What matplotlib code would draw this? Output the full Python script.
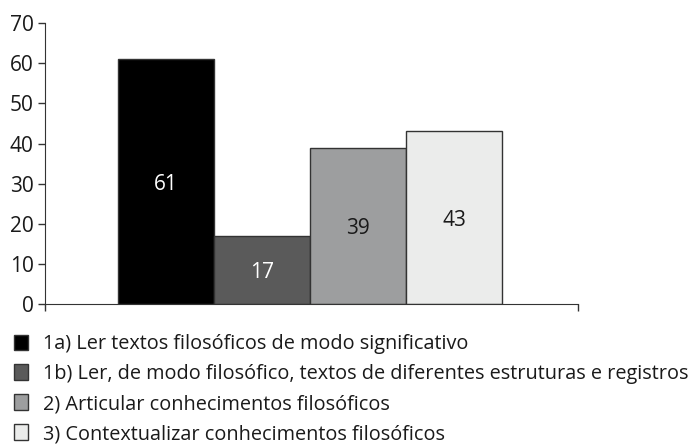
import matplotlib
matplotlib.use("Agg")
import matplotlib.pyplot as plt
from matplotlib.patches import Patch

plt.rcParams["font.family"] = ["Open Sans", "DejaVu Sans"]

labels = [
    "1a) Ler textos filosóficos de modo significativo",
    "1b) Ler, de modo filosófico, textos de diferentes estruturas e registros",
    "2) Articular conhecimentos filosóficos",
    "3) Contextualizar conhecimentos filosóficos",
]
values = [61, 17, 39, 43]
colors = ["#000000", "#5a5a5a", "#9d9e9f", "#ebeceb"]
text_colors = ["white", "white", "#1a1a1a", "#1a1a1a"]

fig = plt.figure(figsize=(6.94, 4.45), dpi=100)
ax = fig.add_axes([0.0648, 0.3169, 0.768, 0.631])

x = list(range(len(values)))
bars = ax.bar(x, values, width=1.0, color=colors, edgecolor="#333333", linewidth=1.0)
for b, v, tc in zip(bars, values, text_colors):
    ax.text(b.get_x() + b.get_width() / 2, v / 2, str(v), ha="center",
            va="center_baseline", color=tc, fontsize=15)

xlim = (-1.26, 4.29)
ax.set_xlim(*xlim)
ax.set_ylim(0, 70)
ax.set_yticks(range(0, 71, 10))
ax.set_xticks(list(xlim))
ax.set_xticklabels([])
ax.tick_params(axis="both", direction="out", length=5, width=1, colors="#333333",
               labelsize=15, labelcolor="#1a1a1a", pad=3)
for s in ["top", "right"]:
    ax.spines[s].set_visible(False)
for s in ["left", "bottom"]:
    ax.spines[s].set_color("#333333")

handles = [Patch(facecolor=c, edgecolor="#333333", linewidth=1.0) for c in colors]
fig.legend(handles, labels, loc="upper left", bbox_to_anchor=(0.0, 0.28),
           frameon=False, fontsize=14.3, handlelength=0.7, handleheight=0.85,
           handletextpad=0.75, labelspacing=0.5, borderpad=0.2, labelcolor="#1a1a1a")

fig.savefig("out.png", dpi=100)
